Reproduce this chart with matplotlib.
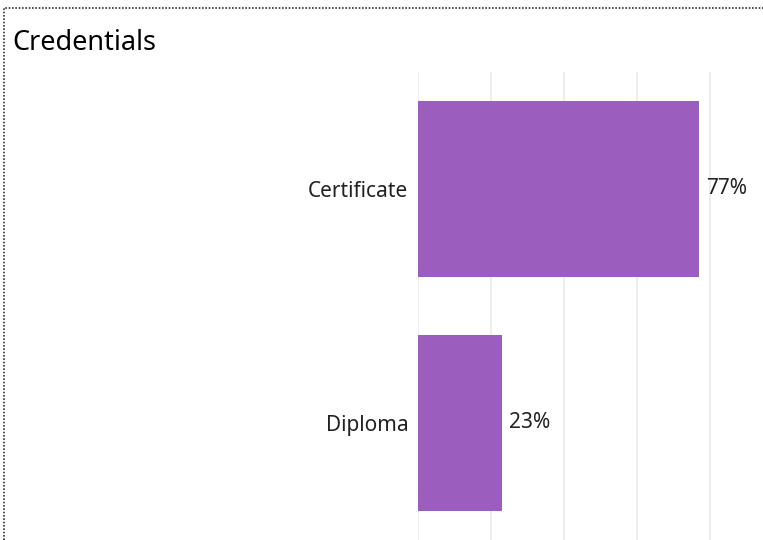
import matplotlib.pyplot as plt
from matplotlib.lines import Line2D

categories = ["Certificate", "Diploma"]
shares = [77, 23]
grid_ticks = [0, 20, 40, 60, 80]

plt.rcParams['font.family'] = ['Noto Sans', 'DejaVu Sans']

W, H = 763, 540
fig = plt.figure(figsize=(W / 100, H / 100), dpi=100)

# dotted frame on top and left, as in the dashboard tile
fig.add_artist(Line2D([4 / W, 4 / W, 1], [0, 1 - 8 / H, 1 - 8 / H],
                      transform=fig.transFigure, color='#333333',
                      linestyle=(0, (1, 1)), linewidth=1.2))

fig.text(12 / W, 1 - 50 / H, "Credentials", fontsize=19.5, color='black',
         ha='left', va='baseline')

ax = fig.add_axes([418 / W, 0, (W - 418) / W, (H - 72) / H])
ypos = list(range(len(categories)))
ax.barh(ypos, shares, height=0.75, color='#9B5DBE', zorder=2)
ax.set_ylim(len(categories) - 0.5, -0.5)
ax.set_xlim(0, (W - 418) / 73 * 20)

for y, v in zip(ypos, shares):
    ax.text(v + 2.0, y, f"{v}%", va='center', ha='left', fontsize=15,
            color='#222222')

ax.set_xticks(grid_ticks)
ax.xaxis.grid(True, color='#ebebeb', linewidth=1.2, zorder=0)
ax.tick_params(axis='x', length=0, labelbottom=False)
ax.set_yticks(ypos)
ax.set_yticklabels(categories, fontsize=15, color='#222222')
ax.tick_params(axis='y', length=0, pad=7)
for s in ax.spines.values():
    s.set_visible(False)

fig.savefig("out.png", dpi=100)
